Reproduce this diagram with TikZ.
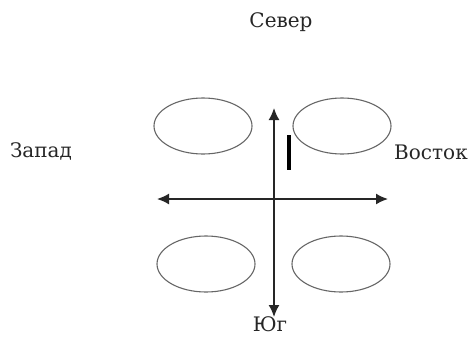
\documentclass[tikz,border=0pt]{standalone}
\usepackage{fontspec}
\setmainfont{DejaVu Serif}
\usetikzlibrary{arrows.meta,shapes.geometric}
\begin{document}
\begin{tikzpicture}[x=1pt,y=-1pt,
  oval/.style={draw=black!60,line width=1.1pt,ellipse,minimum width=98pt,minimum height=56pt,inner sep=0pt},
  axis/.style={draw=black!85,line width=1.6pt,{Latex[length=12pt,width=11pt]}-{Latex[length=12pt,width=11pt]}},
  lbl/.style={anchor=base,font=\fontsize{20}{20}\selectfont,inner sep=0pt,text=black!85}]
\useasboundingbox (0,0) rectangle (473,340);
\node[oval] (nw) at (203,126) {};
\node[oval] (ne) at (342,126) {};
\node[oval] (sw) at (206,264) {};
\node[oval] (se) at (341,264) {};
\coordinate (n) at (274,108);
\coordinate (s) at (274,317);
\coordinate (w) at (157,199);
\coordinate (e) at (388,199);
\draw[axis] (n) -- (s);
\draw[axis] (w) -- (e);
\coordinate (b1) at (288.5,135);
\coordinate (b2) at (288.5,170);
\draw[line width=4pt] (b1) -- (b2);
\node[lbl] (north) at (281,27) {Север};
\node[lbl] (west) at (41,157) {Запад};
\node[lbl] (east) at (431,159) {Восток};
\node[lbl] (south) at (270,331) {Юг};
\end{tikzpicture}
\end{document}
